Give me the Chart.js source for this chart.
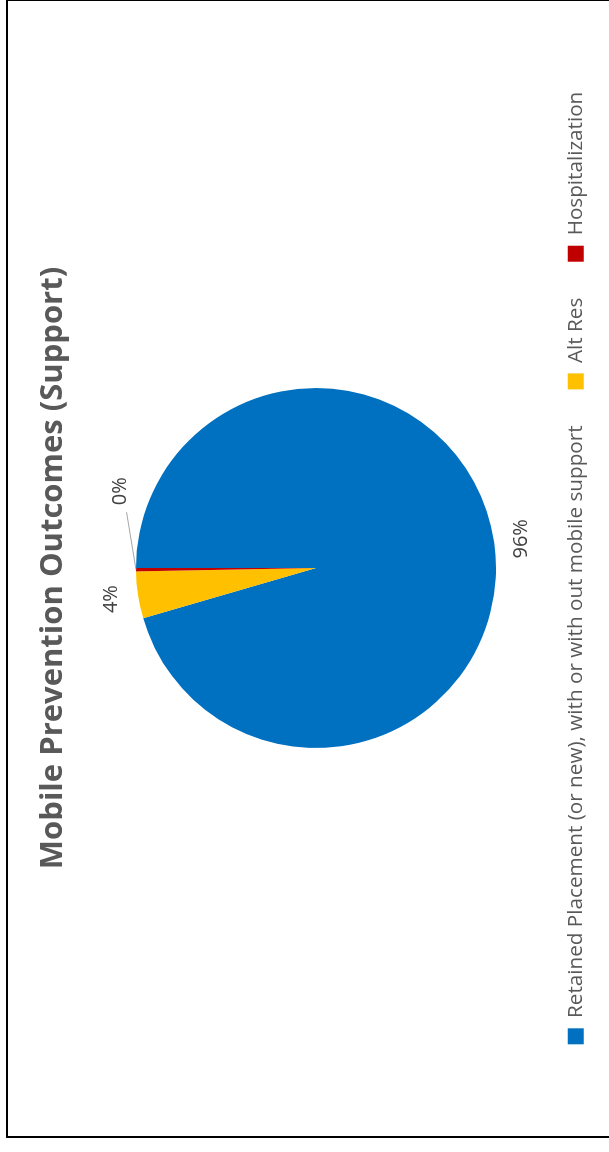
<!DOCTYPE html>
<html>
<head>
<meta charset="utf-8">
<script src="https://cdn.jsdelivr.net/npm/chart.js@4.4.1/dist/chart.umd.min.js"></script>
<style>
  html, body { margin: 0; padding: 0; background: #fff; overflow: hidden; }
  /* the whole chart is turned a quarter turn counter-clockwise */
  #frame {
    position: absolute; left: 0; top: 0;
    width: 1135px; height: 624px;
    border: 2px solid #000;
    background: #fff;
    transform-origin: 0 0;
    transform: translate(6px, 1138px) rotate(-90deg);
  }
  canvas { display: block; }
</style>
</head>
<body>
<div id="frame"><canvas id="outcomes" width="1135" height="624"></canvas></div>
<script>
const categories = [
  'Retained Placement (or new), with or with out mobile support',
  'Alt Res',
  'Hospitalization'
];
const shares = [95.5, 4.2, 0.3];
const sliceColors = ['#0070C0', '#FFC000', '#C00000'];

const fontFamily = '"Open Sans", "Noto Sans", sans-serif';

// percentage labels outside the pie, tiny slices get pushed aside with a leader line
const pctLabels = {
  id: 'pctLabels',
  afterDatasetsDraw(chart, args, opts) {
    const ctx = chart.ctx;
    const meta = chart.getDatasetMeta(0);
    const total = shares.reduce((a, b) => a + b, 0);
    ctx.save();
    ctx.font = opts.font;
    ctx.textAlign = 'center';
    ctx.textBaseline = 'middle';
    meta.data.forEach((arc, i) => {
      const share = shares[i] / total;
      const text = Math.round(share * 100) + '%';
      const mid = (arc.startAngle + arc.endAngle) / 2;
      const small = share < 0.01;
      const a = small ? mid + opts.nudge * Math.PI / 180 : mid;
      const r = arc.outerRadius + (small ? opts.smallOffset : opts.offset);
      const x = arc.x + Math.cos(a) * r;
      const y = arc.y + Math.sin(a) * r;
      if (small) {
        const w = ctx.measureText(text).width;
        ctx.strokeStyle = opts.lineColor;
        ctx.lineWidth = 1;
        ctx.beginPath();
        ctx.moveTo(arc.x + Math.cos(mid) * arc.outerRadius, arc.y + Math.sin(mid) * arc.outerRadius);
        ctx.lineTo(x - w / 2 - 7, y + 6);
        ctx.stroke();
      }
      ctx.fillStyle = opts.color;
      ctx.fillText(text, x, y);
    });
    ctx.restore();
  }
};

new Chart(document.getElementById('outcomes'), {
  type: 'pie',
  data: {
    labels: categories,
    datasets: [{
      data: shares,
      backgroundColor: sliceColors,
      borderWidth: 0,
      radius: 180
    }]
  },
  options: {
    responsive: false,
    animation: false,
    events: [],
    layout: { padding: { left: 1, bottom: 36 } },
    plugins: {
      title: {
        display: true,
        text: 'Mobile Prevention Outcomes (Support)',
        color: '#595959',
        font: { family: fontFamily, size: 31, weight: 'bold', lineHeight: 1.2 },
        padding: { top: 27, bottom: 30.5 }
      },
      legend: {
        position: 'bottom',
        labels: {
          boxWidth: 16,
          boxHeight: 16,
          padding: 36,
          color: '#595959',
          font: { family: fontFamily, size: 20.7 }
        }
      },
      tooltip: { enabled: false },
      pctLabels: {
        font: '20px ' + fontFamily,
        color: '#404040',
        lineColor: '#A6A6A6',
        offset: 27,
        smallOffset: 30,
        nudge: 22
      }
    }
  },
  plugins: [pctLabels]
});
</script>
</body>
</html>
